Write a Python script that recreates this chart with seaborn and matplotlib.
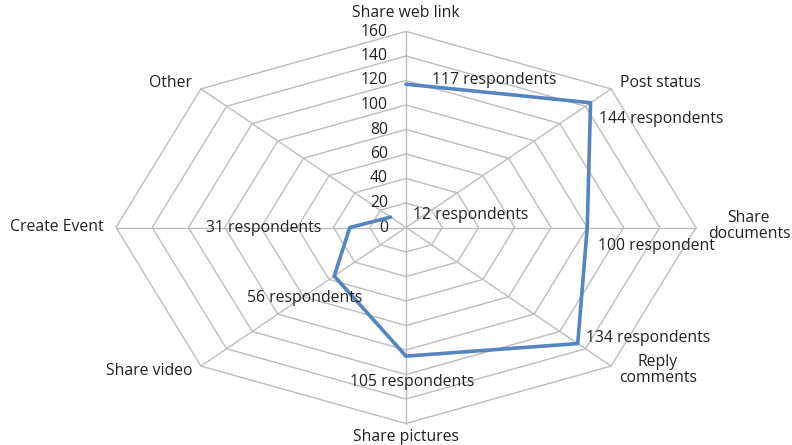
import numpy as np
import pandas as pd
import seaborn as sns
import matplotlib
matplotlib.use("Agg")
import matplotlib.pyplot as plt

# Activities shown on the radar, clockwise from the top
categories = ["Share web link", "Post status", "Share\ndocuments", "Reply\ncomments",
              "Share pictures", "Share video", "Create Event", "Other"]
respondents = [117, 144, 100, 134, 105, 56, 31, 12]
value_labels = ["117 respondents", "144 respondents", "100 respondent", "134 respondents",
                "105 respondents", "56 respondents", "31 respondents", "12 respondents"]
ring_ticks = [0, 20, 40, 60, 80, 100, 120, 140, 160]

sns.set_theme(style="white")
plt.rcParams["font.family"] = ["Open Sans", "DejaVu Sans"]
FS = 11.3

W, H = 792, 445
fig = plt.figure(figsize=(W / 100, H / 100), dpi=100)
ax = fig.add_axes([0, 0, 1, 1])
ax.set_axis_off()

# Pixel scale of one value unit in each direction (the plot is stretched horizontally)
cx, cy = 406, 227.5
sx, sy = 290 / 160, 196 / 160
ax.set_xlim(-cx / sx, (W - cx) / sx)
ax.set_ylim(-(H - cy) / sy, cy / sy)

n = len(categories)
theta = np.arange(n) * 2 * np.pi / n
ux, uy = np.sin(theta), np.cos(theta)

grid_col = "#BDBDBD"
# Octagonal rings
for r in ring_ticks[1:]:
    xs = np.append(ux * r, ux[0] * r)
    ys = np.append(uy * r, uy[0] * r)
    ax.plot(xs, ys, color=grid_col, lw=1.0, zorder=1)
# Spokes
rmax = ring_ticks[-1]
for i in range(n):
    ax.plot([0, ux[i] * rmax], [0, uy[i] * rmax], color=grid_col, lw=1.0, zorder=1)

# Radial tick labels along the top spoke
for t in ring_ticks:
    ax.annotate(str(t), (0, t), xytext=(-18, 0), textcoords="offset pixels",
                ha="right", va="center", fontsize=FS, color="#222222")

# Data polygon
df = pd.DataFrame({
    "x": np.append(ux * np.array(respondents), ux[0] * respondents[0]),
    "y": np.append(uy * np.array(respondents), uy[0] * respondents[0]),
})
sns.lineplot(data=df, x="x", y="y", sort=False, color="#5485C0", lw=2.6, ax=ax, zorder=3)
ax.set_xlabel("")
ax.set_ylabel("")

# Value labels, offset from each vertex (pixels)
label_offsets = [(26, 4, "left"), (8, -16, "left"), (11, -18, "left"), (8, 6, "left"),
                 (6, -26, "center"), (-30, -22, "center"), (-29, 0, "right"), (22, 2, "left")]
for i, (txt, (dx, dy, ha)) in enumerate(zip(value_labels, label_offsets)):
    v = respondents[i]
    ax.annotate(txt, (ux[i] * v, uy[i] * v), xytext=(dx, dy), textcoords="offset pixels",
                ha=ha, va="center", fontsize=FS, color="#222222", zorder=4)

# Category labels around the outer ring (pixel positions)
cat_pos = [(406, 13, "center"), (620, 83, "left"), (749, 226, "center"), (658, 370, "center"),
           (406, 437, "center"), (192, 371, "right"), (104, 227, "right"), (192, 83, "right")]
for txt, (px, py, ha) in zip(categories, cat_pos):
    fig.text(px / W, 1 - py / H, txt, ha=ha, va="center", fontsize=FS,
             color="#222222", linespacing=1.0, multialignment="center")

fig.savefig("out.png", dpi=100, facecolor="white")
